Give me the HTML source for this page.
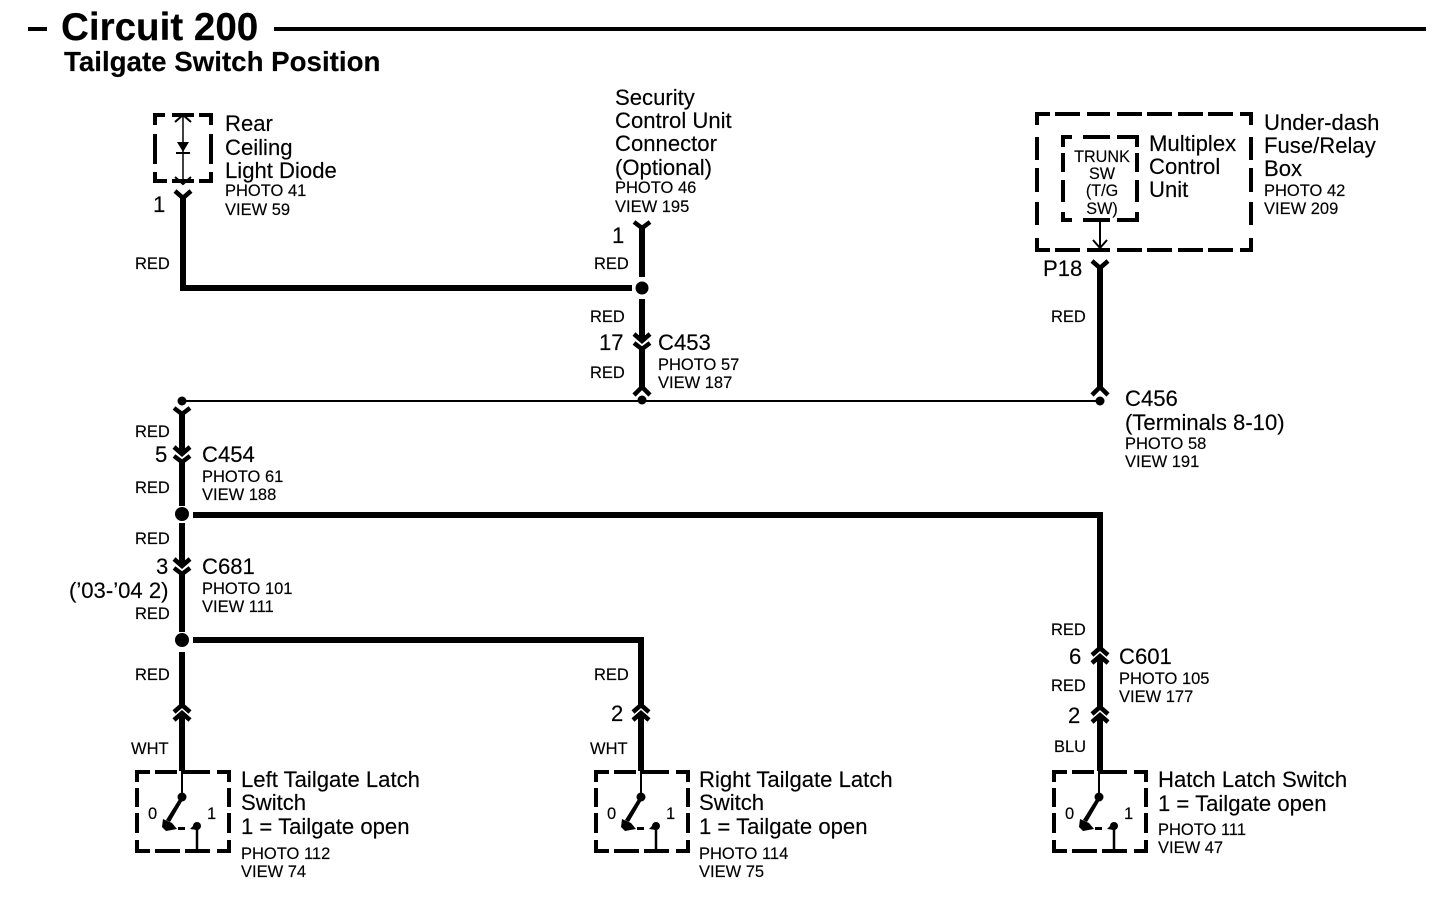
<!DOCTYPE html>
<html><head><meta charset="utf-8"><title>Circuit 200</title>
<style>
html,body{margin:0;padding:0;background:#fff;width:1456px;height:908px;overflow:hidden}
svg{display:block}
text{font-family:"Liberation Sans",sans-serif;fill:#000;font-size:22.1px;stroke:#000;stroke-width:.15}
.s{font-size:16.5px}
.c{font-size:16.2px;text-anchor:middle}
.t{font-weight:bold}
.w{fill:none;stroke:#000;stroke-width:6}
.n{fill:none;stroke:#000;stroke-width:2}
.a{fill:none;stroke:#000;stroke-width:4.5}
.d{fill:none;stroke:#000;stroke-width:4}
</style></head><body>
<svg width="1456" height="908" viewBox="0 0 1456 908" xmlns="http://www.w3.org/2000/svg">
<defs>
<g id="dn"><path class="a" d="M-8,-8 L0,-1 L8,-8"/><path class="a" d="M-8,1 L0,7 L8,1"/></g>
<g id="up"><path class="a" d="M-8,-7 L0,-14 L8,-7"/><path class="a" d="M-8,1 L0,-6 L8,1"/></g>
<g id="sw">
<path class="d" d="M150,772H137V782M155,772H177M181,772H210M217,772H229V782M137,788V807M229,788V807M137,813V833M229,813V833M137,840V851H150M229,840V851H217M155,851H180M185,851H210"/>
<path class="n" d="M182,770V797"/>
<circle cx="182" cy="797" r="4.5"/>
<path d="M181,796 L184,798 L170,822 L166,820Z"/>
<path d="M163,819 L172,823 L177,829 L166,831 L162,827Z"/>
<path d="M178,827h7v3h-7z"/>
<path d="M190,829 L197,822 L197,830Z"/>
<circle cx="197" cy="826" r="4"/>
<path class="n" d="M197,826V851" style="stroke-width:2.5"/>
</g>
</defs>

<!-- title -->
<path d="M28,27h19v4h-19zM274,27h1152v4H274z"/>
<text class="t" x="61" y="40" style="font-size:38.6px">Circuit 200</text>
<text class="t" x="64" y="71" style="font-size:27.7px">Tailgate Switch Position</text>

<!-- diode box -->
<path class="d" d="M165,115H155V125M155,134V164M155,172V181H167M172,115H194M199,115H211V125M211,134V164M211,172V181H199M172,181H194"/>
<path class="n" d="M183,114V184" style="stroke-width:1.5"/>
<path class="n" d="M175,122L183,115L191,122M175,177L183,184L191,177"/>
<path d="M177,142H189L183,152Z"/><path d="M176,152h14v2h-14z"/>
<text x="225" y="131">Rear</text>
<text x="225" y="155">Ceiling</text>
<text x="225" y="178">Light Diode</text>
<text class="s" x="225" y="196">PHOTO 41</text>
<text class="s" x="225" y="215">VIEW 59</text>
<text x="153" y="212">1</text>
<path class="a" d="M175,191L183,198L191,191"/>

<!-- wire from diode -->
<path class="w" d="M183,197V288H632"/>
<circle cx="642" cy="288" r="6.5"/>
<text class="s" x="135" y="269">RED</text>

<!-- security unit -->
<text x="615" y="105">Security</text>
<text x="615" y="128">Control Unit</text>
<text x="615" y="151">Connector</text>
<text x="615" y="175">(Optional)</text>
<text class="s" x="615" y="193">PHOTO 46</text>
<text class="s" x="615" y="212">VIEW 195</text>
<path class="a" d="M634,222L642,228L650,222"/>
<path class="w" d="M642,226V277"/>
<text x="612" y="243">1</text>
<text class="s" x="594" y="269">RED</text>
<path class="w" d="M642,299V341"/>
<use href="#dn" x="642" y="342"/>
<path class="w" d="M642,349V389"/>
<path class="a" d="M634,395L642,387L650,395"/>
<circle cx="642" cy="400" r="4.5"/>
<text class="s" x="590" y="322">RED</text>
<text x="599" y="350">17</text>
<text x="658" y="350">C453</text>
<text class="s" x="658" y="370">PHOTO 57</text>
<text class="s" x="658" y="388">VIEW 187</text>
<text class="s" x="590" y="378">RED</text>

<!-- thin bus -->
<path class="n" d="M182,401H1100"/>
<circle cx="182" cy="401" r="4.5"/>
<circle cx="1100" cy="401" r="4.5"/>

<!-- multiplex -->
<path class="d" d="M1050,114H1037V125M1055,114H1080M1087,114H1110M1117,114H1142M1147,114H1172M1178,114H1203M1208,114H1233M1240,114H1251V125M1037,137V160M1251,137V160M1037,168V192M1251,168V192M1037,202V225M1251,202V225M1037,238V250H1050M1251,238V250H1240M1055,250H1080M1087,250H1110M1117,250H1142M1147,250H1172M1178,250H1203M1208,250H1233"/>
<path class="d" d="M1072,137H1063V147M1083,137H1110M1117,137H1137V147M1063,153V172M1137,153V172M1063,180V202M1137,180V202M1063,212V220H1072M1137,212V220H1117M1083,220H1110"/>
<path class="n" d="M1100,221V248"/>
<path class="n" d="M1093,240L1100,248L1107,240"/>
<text class="c" x="1102" y="162">TRUNK</text>
<text class="c" x="1102" y="179">SW</text>
<text class="c" x="1102" y="196">(T/G</text>
<text class="c" x="1102" y="214">SW)</text>
<text x="1149" y="151">Multiplex</text>
<text x="1149" y="174">Control</text>
<text x="1149" y="197">Unit</text>
<text x="1264" y="130">Under-dash</text>
<text x="1264" y="153">Fuse/Relay</text>
<text x="1264" y="176">Box</text>
<text class="s" x="1264" y="196">PHOTO 42</text>
<text class="s" x="1264" y="214">VIEW 209</text>
<text x="1043" y="276">P18</text>
<path class="a" d="M1092,261L1100,268L1108,261"/>
<path class="w" d="M1100,266V389"/>
<path class="a" d="M1092,395L1100,387L1108,395"/>
<text class="s" x="1051" y="322">RED</text>
<text x="1125" y="406">C456</text>
<text x="1125" y="430">(Terminals 8-10)</text>
<text class="s" x="1125" y="449">PHOTO 58</text>
<text class="s" x="1125" y="467">VIEW 191</text>

<!-- left trunk -->
<path class="a" d="M174,408L182,414L190,408"/>
<path class="w" d="M182,412V453"/>
<use href="#dn" x="182" y="455"/>
<path class="w" d="M182,461V506"/>
<circle cx="182" cy="514" r="7"/>
<path class="w" d="M193,515H1100V650"/>
<path class="w" d="M182,523V566"/>
<use href="#dn" x="182" y="567"/>
<path class="w" d="M182,573V632"/>
<circle cx="182" cy="640" r="7"/>
<path class="w" d="M193,640H641V706"/>
<path class="w" d="M182,652V706"/>
<text class="s" x="135" y="437">RED</text>
<text x="155" y="462">5</text>
<text x="202" y="462">C454</text>
<text class="s" x="202" y="482">PHOTO 61</text>
<text class="s" x="202" y="500">VIEW 188</text>
<text class="s" x="135" y="493">RED</text>
<text class="s" x="135" y="544">RED</text>
<text x="156" y="574">3</text>
<text x="202" y="574">C681</text>
<text x="69" y="598">(’03-’04 2)</text>
<text class="s" x="202" y="594">PHOTO 101</text>
<text class="s" x="202" y="612">VIEW 111</text>
<text class="s" x="135" y="619">RED</text>
<text class="s" x="135" y="680">RED</text>

<!-- lower connectors -->
<use href="#up" x="182" y="719"/>
<path class="w" d="M182,714V771"/>
<use href="#up" x="641" y="719"/>
<path class="w" d="M641,714V771"/>
<use href="#up" x="1100" y="662"/>
<path class="w" d="M1100,656V710"/>
<use href="#up" x="1100" y="721"/>
<path class="w" d="M1100,716V771"/>

<text class="s" x="131" y="754">WHT</text>
<text class="s" x="594" y="680">RED</text>
<text x="611" y="721">2</text>
<text class="s" x="590" y="754">WHT</text>
<text class="s" x="1051" y="635">RED</text>
<text x="1069" y="664">6</text>
<text x="1119" y="664">C601</text>
<text class="s" x="1119" y="684">PHOTO 105</text>
<text class="s" x="1119" y="702">VIEW 177</text>
<text class="s" x="1051" y="691">RED</text>
<text x="1068" y="723">2</text>
<text class="s" x="1054" y="752">BLU</text>

<!-- switches -->
<use href="#sw"/>
<use href="#sw" x="459"/>
<use href="#sw" x="917"/>
<text class="s" x="148" y="819">0</text><text class="s" x="207" y="819">1</text>
<text class="s" x="607" y="819">0</text><text class="s" x="666" y="819">1</text>
<text class="s" x="1065" y="819">0</text><text class="s" x="1124" y="819">1</text>

<text x="241" y="787">Left Tailgate Latch</text>
<text x="241" y="810">Switch</text>
<text x="241" y="834">1 = Tailgate open</text>
<text class="s" x="241" y="859">PHOTO 112</text>
<text class="s" x="241" y="877">VIEW 74</text>

<text x="699" y="787">Right Tailgate Latch</text>
<text x="699" y="810">Switch</text>
<text x="699" y="834">1 = Tailgate open</text>
<text class="s" x="699" y="859">PHOTO 114</text>
<text class="s" x="699" y="877">VIEW 75</text>

<text x="1158" y="787">Hatch Latch Switch</text>
<text x="1158" y="811">1 = Tailgate open</text>
<text class="s" x="1158" y="835">PHOTO 111</text>
<text class="s" x="1158" y="853">VIEW 47</text>
</svg>
</body></html>
